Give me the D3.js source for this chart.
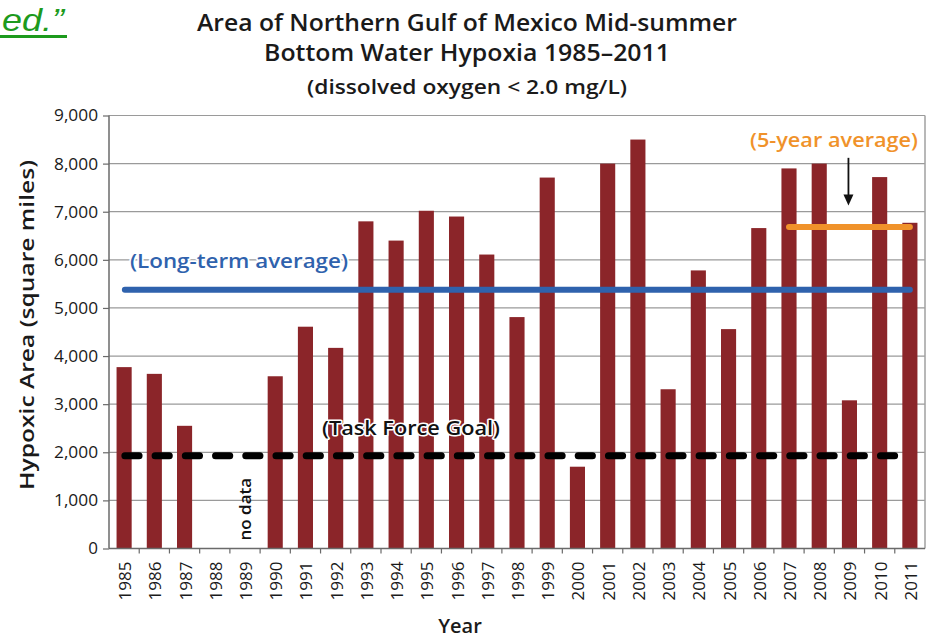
<!DOCTYPE html>
<html>
<head>
<meta charset="utf-8">
<script src="https://cdn.jsdelivr.net/npm/d3@7"></script>
<style>
  html, body { margin: 0; padding: 0; background: #fff; }
  svg { display: block; }
  text { font-family: "Open Sans", "Noto Sans", sans-serif; }
</style>
</head>
<body>
<svg id="chart" width="937" height="639"></svg>
<script>
// ---- data ----
const years = ["1985","1986","1987","1988","1989","1990","1991","1992","1993","1994","1995","1996","1997","1998","1999","2000","2001","2002","2003","2004","2005","2006","2007","2008","2009","2010","2011"];
const hypoxicArea = [3770, 3630, 2550, null, null, 3580, 4610, 4170, 6800, 6400, 7020, 6900, 6110, 4810, 7710, 1700, 8000, 8500, 3310, 5780, 4560, 6660, 7900, 8000, 3080, 7720, 6770];
const yTicks = [0, 1000, 2000, 3000, 4000, 5000, 6000, 7000, 8000, 9000];
const longTermAverage = 5380;
const fiveYearAverage = 6680;
const fiveYearSpan = ["2007", "2011"];
const taskForceGoal = 1930;
const noDataYear = "1989";
const arrowYear = "2009";
const arrowFrom = 8120, arrowTo = 7130;

const titleLines = ["Area of Northern Gulf of Mexico Mid-summer", "Bottom Water Hypoxia 1985\u20132011", "(dissolved oxygen < 2.0 mg/L)"];

// ---- layout ----
const svg = d3.select("#chart");
const pLeft = 109, pRight = 925, pTop = 115.5, pBottom = 548.5;

const x = d3.scaleBand().domain(years).range([pLeft, pRight]).paddingInner(0.5).paddingOuter(0.25);
const y = d3.scaleLinear().domain([0, 9000]).range([pBottom, pTop]);

// green text fragment top-left
svg.append("text").attr("x", 2).attr("y", 31).attr("text-anchor", "start")
  .attr("font-style", "italic").attr("font-size", 32).attr("fill", "#1d9a1d")
  .attr("textLength", 62).attr("lengthAdjust", "spacingAndGlyphs")
  .style("font-family", "Liberation Sans, Arial, sans-serif")
  .text("ed.\u201D");
svg.append("rect").attr("x", 0).attr("y", 35).attr("width", 67).attr("height", 3).attr("fill", "#1d9a1d");

// titles
const tSpecs = [
  {y: 31, size: 24, weight: 600, len: 540},
  {y: 61, size: 24, weight: 600, len: 406},
  {y: 94, size: 19.5, weight: 600, len: 320}
];
titleLines.forEach((t, i) => {
  svg.append("text").attr("x", 467).attr("y", tSpecs[i].y).attr("text-anchor", "middle")
    .attr("font-size", tSpecs[i].size).attr("font-weight", tSpecs[i].weight).attr("fill", "#1a1a1a")
    .attr("textLength", tSpecs[i].len).attr("lengthAdjust", "spacingAndGlyphs")
    .text(t);
});

// gridlines
svg.append("g").selectAll("line").data(yTicks.filter(d => d > 0)).join("line")
  .attr("x1", pLeft).attr("x2", pRight).attr("y1", d => y(d)).attr("y2", d => y(d))
  .attr("stroke", "#9a9a9a").attr("stroke-width", 1.2);

// right border
svg.append("line").attr("x1", pRight).attr("x2", pRight).attr("y1", pTop).attr("y2", pBottom)
  .attr("stroke", "#a0a0a0").attr("stroke-width", 1.5);

// bars
svg.append("g").selectAll("rect").data(years.map((yr, i) => ({yr, v: hypoxicArea[i]})).filter(d => d.v != null))
  .join("rect")
  .attr("x", d => x(d.yr)).attr("width", x.bandwidth())
  .attr("y", d => y(d.v)).attr("height", d => y(0) - y(d.v))
  .attr("fill", "#8b2529");

// y axis
const yAxis = d3.axisLeft(y).tickValues(yTicks).tickFormat(d3.format(",")).tickSize(6).tickPadding(5);
const gy = svg.append("g").attr("transform", `translate(${pLeft},0)`).call(yAxis);
gy.select(".domain").attr("stroke", "#6a6a6a").attr("stroke-width", 1.5).attr("d", `M0,${pBottom}V${pTop}`);
gy.selectAll(".tick line").attr("stroke", "#6a6a6a").attr("stroke-width", 1.2);
gy.selectAll(".tick text").attr("font-size", 17).attr("fill", "#1a1a1a")
  .style("font-family", "\"Open Sans\", sans-serif").attr("font-weight", 500)
  .attr("textLength", 44).attr("lengthAdjust", "spacingAndGlyphs");
gy.selectAll(".tick text").filter(d => d === 0).attr("textLength", null);

// x axis
const xAxis = d3.axisBottom(x).tickSize(0).tickPadding(0);
const gx = svg.append("g").attr("transform", `translate(0,${pBottom})`).call(xAxis);
gx.select(".domain").attr("stroke", "#6a6a6a").attr("stroke-width", 1.5).attr("d", `M${pLeft},0H${pRight}`);
gx.selectAll(".tick text").attr("font-size", 17).attr("fill", "#1a1a1a")
  .style("font-family", "\"Open Sans\", sans-serif").attr("font-weight", 500)
  .attr("text-anchor", "end").attr("dy", null).attr("y", 0)
  .attr("transform", "translate(7,13) rotate(-90)");
// x tick marks at band boundaries
const step = x.step();
svg.append("g").selectAll("line").data(years.slice(1)).join("line")
  .attr("x1", d => x(d) - step * 0.25).attr("x2", d => x(d) - step * 0.25)
  .attr("y1", pBottom).attr("y2", pBottom + 5)
  .attr("stroke", "#6a6a6a").attr("stroke-width", 1.2);

// axis titles
svg.append("text").attr("transform", `translate(34,${325}) rotate(-90)`).attr("text-anchor", "middle")
  .attr("font-size", 20).attr("font-weight", 600).attr("fill", "#1a1a1a")
  .attr("textLength", 330).attr("lengthAdjust", "spacingAndGlyphs")
  .text("Hypoxic Area (square miles)");
svg.append("text").attr("x", 460).attr("y", 633).attr("text-anchor", "middle")
  .attr("font-size", 20).attr("font-weight", 600).attr("fill", "#1a1a1a").text("Year");

// long-term average line
const lineStart = x(years[0]) + x.bandwidth() * 0.55;
const lineEnd = x(years[years.length - 1]) + x.bandwidth() * 0.5;
svg.append("line").attr("x1", lineStart).attr("x2", lineEnd)
  .attr("y1", y(longTermAverage)).attr("y2", y(longTermAverage))
  .attr("stroke", "#2f62ad").attr("stroke-width", 6).attr("stroke-linecap", "round");

// five year average
svg.append("line").attr("x1", x(fiveYearSpan[0]) + x.bandwidth() / 2).attr("x2", lineEnd)
  .attr("y1", y(fiveYearAverage)).attr("y2", y(fiveYearAverage))
  .attr("stroke", "#f0922a").attr("stroke-width", 6).attr("stroke-linecap", "round");

// task force goal dashed
svg.append("line").attr("x1", lineStart).attr("x2", lineEnd - 3)
  .attr("y1", y(taskForceGoal)).attr("y2", y(taskForceGoal))
  .attr("stroke", "#000").attr("stroke-width", 7).attr("stroke-linecap", "round")
  .attr("stroke-dasharray", `${step * 0.47} ${step * 0.53}`);

// arrow
const ax = x(arrowYear) + x.bandwidth() / 2 - 1;
svg.append("line").attr("x1", ax).attr("x2", ax).attr("y1", y(arrowFrom)).attr("y2", y(arrowTo) - 8)
  .attr("stroke", "#111").attr("stroke-width", 1.8);
svg.append("path").attr("d", `M${ax - 5},${y(arrowTo) - 11}L${ax + 5},${y(arrowTo) - 11}L${ax},${y(arrowTo)}Z`)
  .attr("fill", "#111");

// labels
function label(txt, cx, cy, color, len) {
  svg.append("text").attr("x", cx).attr("y", cy).attr("text-anchor", "middle")
    .attr("font-size", 19).attr("font-weight", 600).attr("fill", color)
    .attr("stroke", "#fff").attr("stroke-width", 3).attr("paint-order", "stroke")
    .attr("stroke-linejoin", "round")
    .attr("textLength", len).attr("lengthAdjust", "spacingAndGlyphs")
    .text(txt);
}
label("(Long-term average)", 239, 268, "#2f62ad", 218);
label("(5-year average)", 834, 147, "#f0922a", 168);
label("(Task Force Goal)", 411, 435, "#111", 178);

// no data
svg.append("text").attr("transform", `translate(${x(noDataYear) + x.bandwidth() / 2 + 6},${pBottom - 8}) rotate(-90)`)
  .attr("font-size", 17).attr("font-weight", 600).attr("fill", "#111").text("no data");
</script>
</body>
</html>
